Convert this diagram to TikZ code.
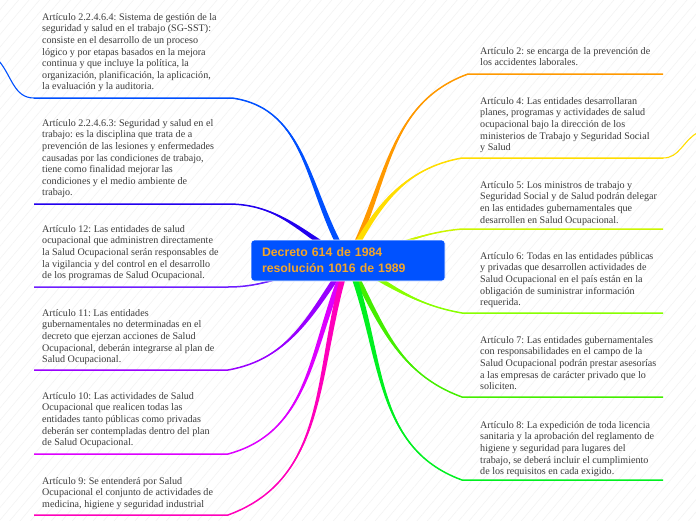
\documentclass[tikz,border=0pt]{standalone}
\usepackage{fontspec}
\setmainfont{Liberation Serif}
\newfontfamily\hubfont{Liberation Sans}
\usetikzlibrary{calc,backgrounds,patterns.meta}
\frenchspacing

\definecolor{hubblue}{HTML}{0052FF}
\definecolor{hubgold}{HTML}{F2A52A}
\definecolor{inkgray}{HTML}{3C3C3C}
\definecolor{cBlue}{HTML}{0050FF}
\definecolor{cIndigo}{HTML}{2200EE}
\definecolor{cViolet}{HTML}{6E1EFF}
\definecolor{cPurple}{HTML}{9900FF}
\definecolor{cMagenta}{HTML}{DD00FF}
\definecolor{cPink}{HTML}{FF00BB}
\definecolor{cOrange}{HTML}{FF9900}
\definecolor{cYellow}{HTML}{FFDD00}
\definecolor{cLime}{HTML}{CCF500}
\definecolor{cLeaf}{HTML}{88FF00}
\definecolor{cGreen}{HTML}{44EE00}
\definecolor{cJade}{HTML}{00F020}

% tapered branch from the hub, then the line under the text
\newcommand{\branch}[5]{%
  \fill[#1] ($(decreto.center)+(#2+90:2.8)$) to[out=#2,in=#3] (#4)
    to[out=#3,in=#2] ($(decreto.center)+(#2-90:2.8)$) -- cycle;
  \draw[#1, twig] (decreto.center) to[out=#2,in=#3] (#4) -- (#5);}

\begin{document}
\begin{tikzpicture}[
  x=1pt, y=1pt,
  art/.style={anchor=north west, inner sep=0pt, align=left, text=inkgray,
              font=\fontsize{10.1}{11.6}\selectfont},
  hub/.style={fill=hubblue, draw=white, line width=0.8pt, rounded corners=3pt,
              text=hubgold, font=\hubfont\bfseries\fontsize{12.3}{16}\selectfont,
              align=left, text width=172pt, inner xsep=11pt,
              minimum width=194pt, minimum height=41pt},
  twig/.style={line width=1.5pt},
  curl/.style={line width=1.1pt}
]
  \useasboundingbox (0,0) rectangle (696,-520);

  \node[hub] (decreto) at (348,-260.5) {Decreto 614 de 1984\\resolución 1016 de 1989};

  % left side
  \node[art] (sgsst) at (42,-13) {Artículo 2.2.4.6.4: Sistema de gestión de la\\
    seguridad y salud en el trabajo (SG-SST):\\
    consiste en el desarrollo de un proceso\\
    lógico y por etapas basados en la mejora\\
    continua y que incluye la política, la\\
    organización, planificación, la aplicación,\\
    la evaluación y la auditoria.};
  \node[art] (sst) at (42,-119) {Artículo 2.2.4.6.3: Seguridad y salud en el\\
    trabajo: es la disciplina que trata de a\\
    prevención de las lesiones y enfermedades\\
    causadas por las condiciones de trabajo,\\
    tiene como finalidad mejorar las\\
    condiciones y el medio ambiente de\\
    trabajo.};
  \node[art] (art12) at (42,-225) {Artículo 12: Las entidades de salud\\
    ocupacional que administren directamente\\
    la Salud Ocupacional serán responsables de\\
    la vigilancia y del control en el desarrollo\\
    de los programas de Salud Ocupacional.};
  \node[art] (art11) at (42,-309) {Artículo 11: Las entidades\\
    gubernamentales no determinadas en el\\
    decreto que ejerzan acciones de Salud\\
    Ocupacional, deberán integrarse al plan de\\
    Salud Ocupacional.};
  \node[art] (art10) at (42,-392) {Artículo 10: Las actividades de Salud\\
    Ocupacional que realicen todas las\\
    entidades tanto públicas como privadas\\
    deberán ser contempladas dentro del plan\\
    de Salud Ocupacional.};
  \node[art] (art9) at (42,-477) {Artículo 9: Se entenderá por Salud\\
    Ocupacional el conjunto de actividades de\\
    medicina, higiene y seguridad industrial};

  % right side
  \node[art] (art2) at (480,-47) {Artículo 2: se encarga de la prevención de\\
    los accidentes laborales.};
  \node[art] (art4) at (480,-97) {Artículo 4: Las entidades desarrollaran\\
    planes, programas y actividades de salud\\
    ocupacional bajo la dirección de los\\
    ministerios de Trabajo y Seguridad Social\\
    y Salud};
  \node[art] (art5) at (480,-181) {Artículo 5: Los ministros de trabajo y\\
    Seguridad Social y de Salud podrán delegar\\
    en las entidades gubernamentales que\\
    desarrollen en Salud Ocupacional.};
  \node[art] (art6) at (480,-252) {Artículo 6: Todas en las entidades públicas\\
    y privadas que desarrollen actividades de\\
    Salud Ocupacional en el país están en la\\
    obligación de suministrar información\\
    requerida.};
  \node[art] (art7) at (480,-336) {Artículo 7: Las entidades gubernamentales\\
    con responsabilidades en el campo de la\\
    Salud Ocupacional podrán prestar asesorías\\
    a las empresas de carácter privado que lo\\
    soliciten.};
  \node[art] (art8) at (480,-421) {Artículo 8: La expedición de toda licencia\\
    sanitaria y la aprobación del reglamento de\\
    higiene y seguridad para lugares del\\
    trabajo, se deberá incluir el cumplimiento\\
    de los requisitos en cada exigido.};

  % underline ends
  \coordinate (sgsst-l) at (34,-98);   \coordinate (sgsst-r) at (232,-98);
  \coordinate (sst-l) at (34,-204);    \coordinate (sst-r) at (228,-204);
  \coordinate (art12-l) at (34,-287);  \coordinate (art12-r) at (228,-287);
  \coordinate (art11-l) at (34,-370);  \coordinate (art11-r) at (228,-370);
  \coordinate (art10-l) at (34,-454);  \coordinate (art10-r) at (228,-454);
  \coordinate (art9-l) at (34,-515);   \coordinate (art9-r) at (228,-515);
  \coordinate (art2-l) at (468,-74);   \coordinate (art2-r) at (663,-74);
  \coordinate (art4-l) at (462,-158);  \coordinate (art4-r) at (663,-158);
  \coordinate (art5-l) at (462,-229);  \coordinate (art5-r) at (663,-229);
  \coordinate (art6-l) at (462,-313);  \coordinate (art6-r) at (663,-313);
  \coordinate (art7-l) at (462,-397);  \coordinate (art7-r) at (663,-397);
  \coordinate (art8-l) at (462,-480);  \coordinate (art8-r) at (663,-480);
  \coordinate (curlL) at (-1,-61);
  \coordinate (curlR) at (697,-133);

  \begin{scope}[on background layer]
    \fill[white] (0,0) rectangle (696,-520);
    \fill[pattern={Lines[angle=50,distance=8pt,line width=0.5pt]},
          pattern color=black!5] (0,0) rectangle (696,-520);

    \branch{cBlue}{122}{-8}{sgsst-r}{sgsst-l}
    \branch{cIndigo}{150}{0}{sst-r}{sst-l}
    \branch{cViolet}{185}{0}{art12-r}{art12-l}
    \branch{cPurple}{235}{10}{art11-r}{art11-l}
    \branch{cMagenta}{245}{15}{art10-r}{art10-l}
    \branch{cPink}{252}{20}{art9-r}{art9-l}

    \branch{cOrange}{62}{200}{art2-l}{art2-r}
    \branch{cYellow}{62}{190}{art4-l}{art4-r}
    \branch{cLime}{15}{185}{art5-l}{art5-r}
    \branch{cLeaf}{-30}{170}{art6-l}{art6-r}
    \branch{cGreen}{-62}{160}{art7-l}{art7-r}
    \branch{cJade}{-68}{160}{art8-l}{art8-r}

    \draw[cBlue, curl] (sgsst-l) to[out=180,in=-50] (curlL);
    \draw[cYellow, curl] (art4-r) to[out=0,in=210] (curlR);
  \end{scope}
\end{tikzpicture}
\end{document}
